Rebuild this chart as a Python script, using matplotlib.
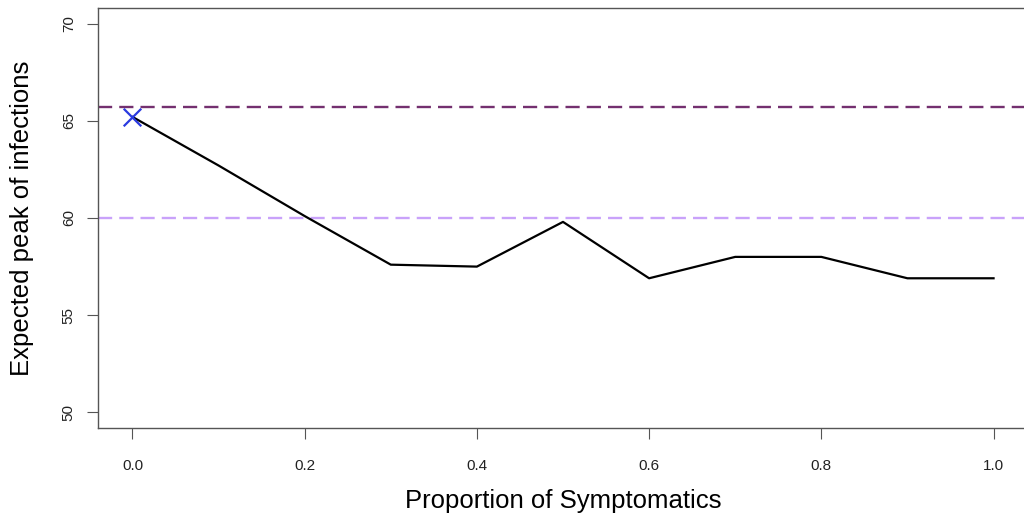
import matplotlib.pyplot as plt
import numpy as np

plt.rcParams['font.family'] = ['Liberation Sans', 'DejaVu Sans']

# data
proportion = [0.0, 0.1, 0.2, 0.3, 0.4, 0.5, 0.6, 0.7, 0.8, 0.9, 1.0]
expected_peak = [65.2, 62.7, 60.1, 57.6, 57.5, 59.8, 56.9, 58.0, 58.0, 56.9, 56.9]
marker_x = [0.0]
marker_y = [65.2]
ref_upper = 65.7
ref_lower = 60.0
x_ticks = [0.0, 0.2, 0.4, 0.6, 0.8, 1.0]
y_ticks = [50, 55, 60, 65, 70]


def main():
    fig = plt.figure(figsize=(10.24, 5.15), dpi=100)
    ax = fig.add_axes([98 / 1024, 1 - 428 / 515, 930 / 1024, 420 / 515])

    ax.plot(proportion, expected_peak, color="black", lw=1.6, zorder=3)
    ax.axhline(ref_upper, color="#74306f", lw=1.7, dashes=(6, 3), zorder=2)
    ax.axhline(ref_lower, color="#c9a2fa", lw=1.7, dashes=(6, 3), zorder=2)
    ax.scatter(marker_x, marker_y, marker="x", s=160, color="#2a3ae0",
               linewidths=1.6, zorder=4)

    ax.set_xlim(-0.04, 1.04)
    ax.set_ylim(49.2, 70.8)
    ax.set_xticks(x_ticks)
    ax.set_xticklabels([f"{t:.1f}" for t in x_ticks])
    ax.set_yticks(y_ticks)
    ax.set_yticklabels([str(t) for t in y_ticks], rotation=90, va="center")
    ax.tick_params(axis="both", direction="out", length=8, width=0.8,
                   color="#555555", labelsize=11, labelcolor="#222222")
    ax.tick_params(axis="x", pad=14)
    ax.tick_params(axis="y", pad=8)

    for side in ax.spines.values():
        side.set_color("#555555")
        side.set_linewidth(1.0)

    ax.set_xlabel("Proportion of Symptomatics", fontsize=18.5, labelpad=12)
    ax.set_ylabel("Expected peak of infections", fontsize=18.5, labelpad=20)

    fig.savefig("out.png", dpi=100)


if __name__ == '__main__':
    main()
